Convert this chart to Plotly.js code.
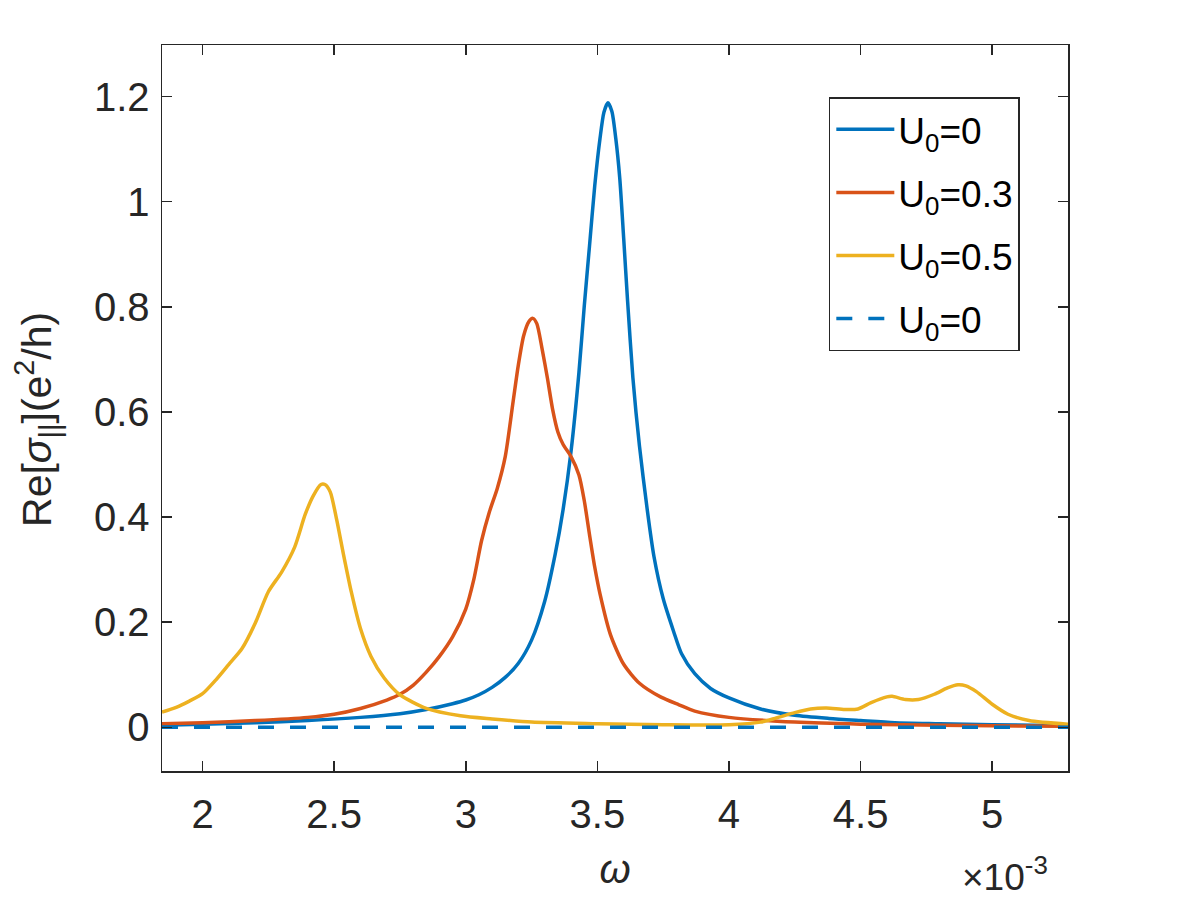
<!DOCTYPE html>
<html>
<head>
<meta charset="utf-8">
<script src="https://cdn.plot.ly/plotly-3.0.1.min.js"></script>
<style>html,body{margin:0;padding:0;background:#fff;}#plot{width:1180px;height:899px;}</style>
</head>
<body>
<div id="plot"></div>
<script>
// omega values in units of 1e-3
const legendNames = ["U<sub>0</sub>=0", "U<sub>0</sub>=0.3", "U<sub>0</sub>=0.5", "U<sub>0</sub>=0"];

const omegaU0 = [1.846, 2.0, 2.2, 2.4, 2.6, 2.75, 2.85, 2.95, 3.0, 3.05, 3.10, 3.15, 3.20, 3.25, 3.30, 3.34, 3.37, 3.40, 3.43, 3.45, 3.47, 3.49, 3.51, 3.525, 3.54, 3.555, 3.57, 3.585, 3.60, 3.615, 3.635, 3.66, 3.69, 3.715, 3.75, 3.79, 3.82, 3.87, 3.93, 4.0, 4.12, 4.25, 4.38, 4.5, 4.63, 4.8, 5.0, 5.288];
const sigmaU0 = [0.004, 0.006, 0.009, 0.013, 0.019, 0.026, 0.034, 0.045, 0.052, 0.062, 0.076, 0.095, 0.122, 0.166, 0.240, 0.330, 0.415, 0.525, 0.675, 0.800, 0.915, 1.030, 1.120, 1.170, 1.188, 1.172, 1.120, 1.045, 0.930, 0.810, 0.665, 0.535, 0.412, 0.325, 0.245, 0.182, 0.140, 0.102, 0.074, 0.056, 0.035, 0.023, 0.017, 0.013, 0.009, 0.007, 0.005, 0.003];

const omegaU03 = [1.846, 2.0, 2.2, 2.4, 2.5, 2.6, 2.7, 2.75, 2.8, 2.85, 2.9, 2.95, 3.0, 3.03, 3.06, 3.09, 3.12, 3.15, 3.18, 3.20, 3.22, 3.24, 3.255, 3.27, 3.29, 3.31, 3.33, 3.35, 3.37, 3.40, 3.43, 3.45, 3.47, 3.49, 3.51, 3.55, 3.60, 3.66, 3.74, 3.81, 3.87, 4.0, 4.25, 4.5, 4.8, 5.288];
const sigmaU03 = [0.007, 0.009, 0.013, 0.019, 0.025, 0.036, 0.052, 0.063, 0.080, 0.105, 0.135, 0.172, 0.225, 0.280, 0.355, 0.410, 0.455, 0.515, 0.620, 0.690, 0.745, 0.772, 0.778, 0.768, 0.720, 0.665, 0.605, 0.562, 0.538, 0.515, 0.480, 0.432, 0.367, 0.305, 0.254, 0.176, 0.120, 0.084, 0.058, 0.043, 0.031, 0.019, 0.010, 0.006, 0.004, 0.002];

const omegaU05 = [1.846, 1.9, 1.95, 2.0, 2.05, 2.1, 2.15, 2.2, 2.25, 2.3, 2.35, 2.39, 2.42, 2.45, 2.465, 2.485, 2.51, 2.535, 2.565, 2.6, 2.64, 2.69, 2.75, 2.85, 2.98, 3.1, 3.25, 3.5, 3.75, 4.0, 4.12, 4.18, 4.25, 4.31, 4.37, 4.44, 4.49, 4.54, 4.60, 4.62, 4.67, 4.72, 4.78, 4.83, 4.87, 4.90, 4.94, 5.0, 5.06, 5.14, 5.288];
const sigmaU05 = [0.029, 0.038, 0.050, 0.064, 0.090, 0.120, 0.150, 0.198, 0.258, 0.295, 0.343, 0.405, 0.440, 0.462, 0.462, 0.448, 0.394, 0.330, 0.258, 0.188, 0.135, 0.094, 0.062, 0.036, 0.022, 0.016, 0.010, 0.007, 0.005, 0.005, 0.010, 0.018, 0.028, 0.035, 0.037, 0.034, 0.035, 0.047, 0.058, 0.059, 0.053, 0.053, 0.063, 0.075, 0.081, 0.079, 0.068, 0.044, 0.025, 0.013, 0.006];

const omegaDash = [1.846, 5.288];
const sigmaDash = [0, 0];

const xTickVals = [2, 2.5, 3, 3.5, 4, 4.5, 5];
const xTickText = ["2", "2.5", "3", "3.5", "4", "4.5", "5"];
const yTickVals = [0, 0.2, 0.4, 0.6, 0.8, 1, 1.2];
const yTickText = ["0", "0.2", "0.4", "0.6", "0.8", "1", "1.2"];

const blue = "#0072BD", orange = "#D95319", yellow = "#EDB120";
const FONT = "Liberation Sans, Arial, Helvetica, sans-serif";
const ink = "#262626";
const LW = 3.5;

const traces = [
  {x: omegaU0, y: sigmaU0, name: legendNames[0], mode: "lines", line: {color: blue, width: LW, shape: "spline", smoothing: 0.7}, legendgroup: "a"},
  {x: omegaU03, y: sigmaU03, name: legendNames[1], mode: "lines", line: {color: orange, width: LW, shape: "spline", smoothing: 0.7}, legendgroup: "b"},
  {x: omegaU05, y: sigmaU05, name: legendNames[2], mode: "lines", line: {color: yellow, width: LW, shape: "spline", smoothing: 0.7}, legendgroup: "c"},
  {x: omegaDash, y: sigmaDash, name: legendNames[3], mode: "lines", line: {color: blue, width: LW, dash: "16px,16px"}, legendgroup: "d"}
];

const axisCommon = {
  showgrid: false, zeroline: false, showline: true, mirror: "ticks",
  linecolor: ink, linewidth: 1.5, ticks: "inside", ticklen: 10, tickwidth: 1.5, tickcolor: ink,
  tickfont: {family: FONT, size: 40, color: ink}
};

const layout = {
  width: 1180, height: 899,
  paper_bgcolor: "#fff", plot_bgcolor: "#fff",
  margin: {l: 162, r: 112, t: 45, b: 128},
  showlegend: true,
  legend: {
    x: 0.736, y: 0.928, xanchor: "left", yanchor: "top",
    bordercolor: ink, borderwidth: 1.5, bgcolor: "#fff",
    font: {family: FONT, size: 37, color: "#000"},
    traceorder: "grouped", tracegroupgap: 12, itemwidth: 58
  },
  xaxis: Object.assign({}, axisCommon, {
    range: [1.846, 5.288], tickvals: xTickVals, ticktext: xTickText, ticklabelstandoff: 7,
    title: {text: "<i>ω</i>", font: {family: FONT, size: 40, color: ink}, standoff: 20}
  }),
  yaxis: Object.assign({}, axisCommon, {
    range: [-0.083, 1.298], tickvals: yTickVals, ticktext: yTickText, ticklabelstandoff: 3,
    title: {text: "Re[<i>σ</i><sub>||</sub>](e<sup>2</sup>/h)&nbsp;&nbsp;", font: {family: FONT, size: 41, color: ink}, standoff: 29}
  }),
  annotations: [{
    xref: "paper", yref: "paper", x: 0.980, y: -0.107, xanchor: "right", yanchor: "top",
    text: "×10<sup>-3</sup>", showarrow: false, font: {family: FONT, size: 37, color: ink}
  }]
};

Plotly.newPlot("plot", traces, layout, {displayModeBar: false, staticPlot: true}).then(function (gd) {
  // lengthen legend line samples like MATLAB's
  gd.querySelectorAll(".legend .legendlines path").forEach(function (p) {
    p.setAttribute("d", "M6,0h58");
  });
});
</script>
</body>
</html>
